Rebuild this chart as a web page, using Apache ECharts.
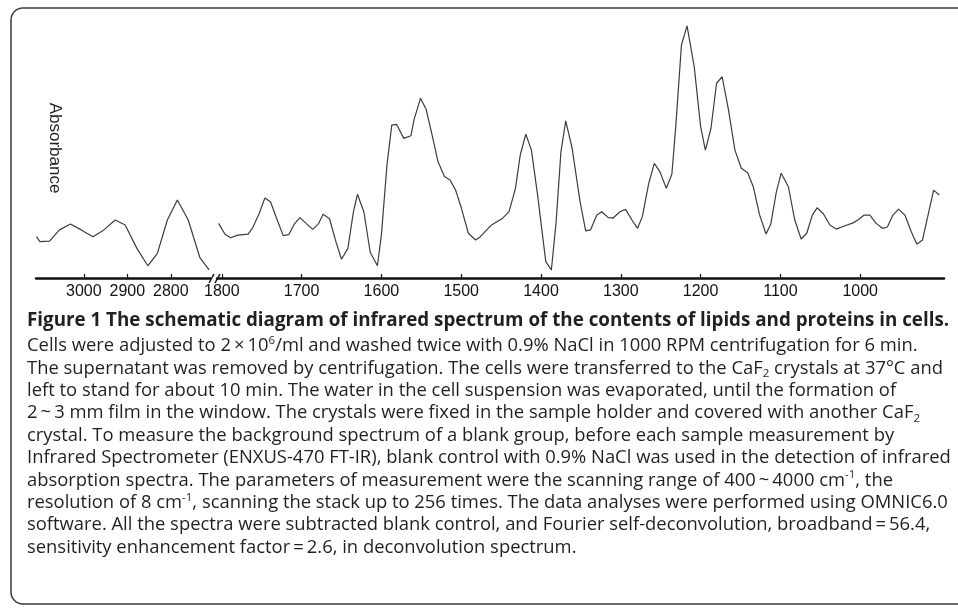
<!DOCTYPE html>
<html>
<head>
<meta charset="utf-8">
<script src="https://cdn.jsdelivr.net/npm/echarts@6.0.0/dist/echarts.min.js"></script>
<style>
	html, body { margin: 0; padding: 0; background: #fff; }
	#chart { width: 958px; height: 608px; }
</style>
</head>
<body>
<div id="chart"></div>
<script>
// wavenumber (cm-1) and absorbance
var leftWave = [3109, 3101, 3079, 3056, 3031, 3006, 2979, 2954, 2928, 2905, 2878, 2853, 2831, 2808, 2785, 2760, 2733, 2712];
var leftAbs = [0.159, 0.140, 0.142, 0.185, 0.208, 0.185, 0.159, 0.185, 0.223, 0.204, 0.114, 0.047, 0.095, 0.223, 0.300, 0.223, 0.077, 0.031];

var rightWave = [
	1804, 1796, 1789, 1780, 1767, 1761, 1753, 1746, 1739, 1731,
	1723, 1716, 1709, 1702, 1694, 1686, 1679, 1673, 1665, 1657,
	1650, 1642, 1635, 1630, 1622, 1614, 1605, 1600, 1593, 1587,
	1581, 1572, 1563, 1559, 1551, 1544, 1537, 1529, 1521, 1514,
	1507, 1500, 1491, 1482, 1476, 1462, 1448, 1440, 1432, 1426,
	1419, 1412, 1404, 1394, 1387, 1381, 1375, 1369, 1361, 1351,
	1344, 1338, 1330, 1324, 1316, 1310, 1301, 1294, 1286, 1279,
	1273, 1265, 1258, 1251, 1243, 1236, 1231, 1224, 1217, 1208,
	1200, 1194, 1187, 1180, 1173, 1165, 1157, 1149, 1141, 1134,
	1126, 1118, 1112, 1105, 1099, 1090, 1082, 1074, 1067, 1060,
	1054, 1046, 1038, 1030, 1019, 1009, 1003, 995, 988, 980,
	972, 966, 959, 952, 944, 936, 929, 922, 915, 908,
	901
];
var rightAbs = [
	0.210, 0.168, 0.155, 0.165, 0.169, 0.195, 0.249, 0.308, 0.293, 0.227,
	0.163, 0.167, 0.208, 0.232, 0.209, 0.187, 0.208, 0.245, 0.228, 0.140,
	0.072, 0.114, 0.255, 0.322, 0.255, 0.099, 0.047, 0.165, 0.435, 0.588,
	0.591, 0.537, 0.547, 0.610, 0.691, 0.649, 0.557, 0.447, 0.390, 0.377,
	0.338, 0.271, 0.172, 0.146, 0.159, 0.204, 0.230, 0.255, 0.345, 0.473,
	0.553, 0.492, 0.313, 0.063, 0.031, 0.217, 0.486, 0.604, 0.499, 0.293,
	0.181, 0.185, 0.242, 0.255, 0.233, 0.230, 0.255, 0.264, 0.223, 0.191,
	0.236, 0.364, 0.441, 0.409, 0.345, 0.399, 0.588, 0.896, 0.970, 0.813,
	0.582, 0.492, 0.576, 0.749, 0.774, 0.646, 0.492, 0.422, 0.405, 0.351,
	0.242, 0.169, 0.208, 0.332, 0.403, 0.351, 0.223, 0.150, 0.172, 0.242,
	0.270, 0.246, 0.204, 0.188, 0.201, 0.212, 0.223, 0.242, 0.242, 0.210,
	0.191, 0.196, 0.242, 0.265, 0.242, 0.178, 0.130, 0.146, 0.242, 0.338,
	0.319
];

var leftTicks = [3000, 2900, 2800];
var rightTicks = [1800, 1700, 1600, 1500, 1400, 1300, 1200, 1100, 1000];

var captionTitle = "Figure 1 The schematic diagram of infrared spectrum of the contents of lipids and proteins in cells.";
var captionLines = [
	"Cells were adjusted to 2\u2009\u00d7\u200910{sup|6}/ml and washed twice with 0.9% NaCl in 1000 RPM centrifugation for 6 min.",
	"The supernatant was removed by centrifugation. The cells were transferred to the CaF{sub|2} crystals at 37\u00b0C and",
	"left to stand for about 10 min. The water in the cell suspension was evaporated, until the formation of",
	"2\u2009~\u20093 mm film in the window. The crystals were fixed in the sample holder and covered with another CaF{sub|2}",
	"crystal. To measure the background spectrum of a blank group, before each sample measurement by",
	"Infrared Spectrometer (ENXUS-470 FT-IR), blank control with 0.9% NaCl was used in the detection of infrared",
	"absorption spectra. The parameters of measurement were the scanning range of 400\u2009~\u20094000 cm{sup|-1}, the",
	"resolution of 8 cm{sup|-1}, scanning the stack up to 256 times. The data analyses were performed using OMNIC6.0",
	"software. All the spectra were subtracted blank control, and Fourier self-deconvolution, broadband\u2009=\u200956.4,",
	"sensitivity enhancement factor\u2009=\u20092.6, in deconvolution spectrum."
];

function pairs(xs, ys) {
	var out = [];
	for (var i = 0; i < xs.length; i++) {
		out.push([xs[i], ys[i]]);
	}
	return out;
}

var axisFont = "Liberation Sans";
var capFont = "Open Sans";
var capColor = "#231f20";
var lineH = 22.4;

var chart = echarts.init(document.getElementById("chart"));

var xCommon = {
	type: "value",
	inverse: true,
	splitLine: { show: false },
	axisLine: { show: true, lineStyle: { color: "#111", width: 2.5 } },
	axisTick: { show: true, inside: true, length: 4, lineStyle: { color: "#111", width: 1.2 } },
	axisLabel: {
		fontSize: 16, fontFamily: axisFont, color: "#111", margin: 6,
		formatter: function(v) {
			return String(v);
		}
	}
};

var option = {
	animation: false,
	backgroundColor: "#fff",
	grid: [
		{ left: 36, top: 18, width: 174, height: 260 },
		{ left: 217, top: 18, width: 727, height: 260 }
	],
	xAxis: [
		echarts.util.merge({
			gridIndex: 0, min: 2710, max: 3110,
			axisLabel: { customValues: leftTicks },
			axisTick: { customValues: leftTicks }
		}, xCommon),
		echarts.util.merge({
			gridIndex: 1, min: 895, max: 1806,
			axisLabel: { customValues: rightTicks },
			axisTick: { customValues: rightTicks }
		}, xCommon)
	],
	yAxis: [
		{
			gridIndex: 0, type: "value", min: 0, max: 1,
			axisLine: { show: false }, axisTick: { show: false },
			axisLabel: { show: false }, splitLine: { show: false },
			name: "Absorbance", nameLocation: "middle", nameRotate: -90, nameGap: -27,
			nameTextStyle: { fontSize: 17, fontFamily: axisFont, color: "#222" }
		},
		{
			gridIndex: 1, type: "value", min: 0, max: 1, show: false
		}
	],
	series: [
		{
			type: "line", xAxisIndex: 0, yAxisIndex: 0,
			data: pairs(leftWave, leftAbs),
			showSymbol: false, silent: true,
			lineStyle: { color: "#3d3d3d", width: 1.2 }
		},
		{
			type: "line", xAxisIndex: 1, yAxisIndex: 1,
			data: pairs(rightWave, rightAbs),
			showSymbol: false, silent: true,
			lineStyle: { color: "#3d3d3d", width: 1.2 }
		}
	],
	graphic: [
		// frame round the figure
		{
			type: "rect", silent: true,
			shape: { x: 11, y: 8, width: 990, height: 596, r: 12 },
			style: { fill: "none", stroke: "#3a3a3a", lineWidth: 1.5 }
		},
		// axis break marks
		{
			type: "polyline", silent: true,
			shape: { points: [[209, 283], [214, 274]] },
			style: { stroke: "#111", lineWidth: 1.5, fill: "none" }
		},
		{
			type: "polyline", silent: true,
			shape: { points: [[215, 283], [220, 274]] },
			style: { stroke: "#111", lineWidth: 1.5, fill: "none" }
		},
		{
			type: "text", silent: true,
			style: {
				x: 27, y: 321, text: captionTitle,
				fontFamily: capFont, fontSize: 18.8, fontWeight: "bold",
				fill: capColor, verticalAlign: "middle"
			}
		},
		{
			type: "text", silent: true,
			style: {
				x: 27, y: 346 - lineH / 2, text: captionLines.join("\n"),
				fontFamily: capFont, fontSize: 18.4, fill: capColor,
				lineHeight: lineH, verticalAlign: "top",
				rich: {
					sup: { fontFamily: capFont, fontSize: 11.5, fill: capColor, verticalAlign: "top", lineHeight: 13 },
					sub: { fontFamily: capFont, fontSize: 11.5, fill: capColor, verticalAlign: "bottom", lineHeight: 13 }
				}
			}
		}
	]
};

chart.setOption(option);
</script>
</body>
</html>
